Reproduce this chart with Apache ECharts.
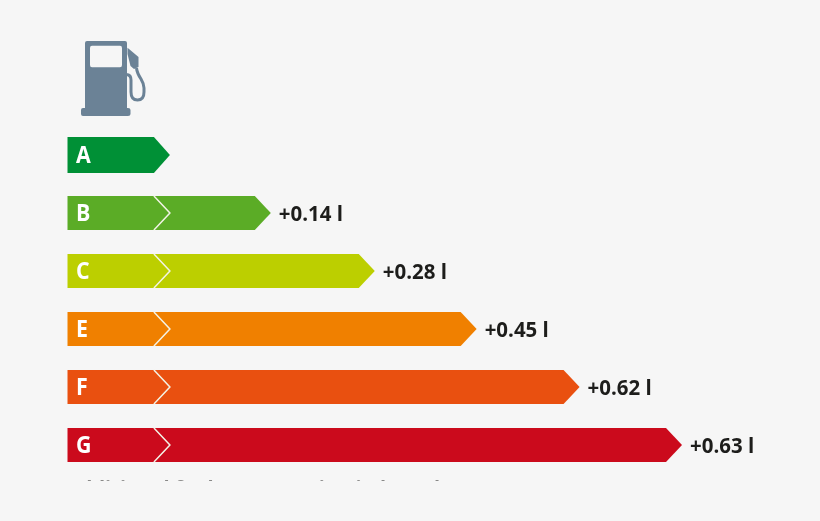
<!DOCTYPE html>
<html>
<head>
<meta charset="utf-8">
<style>
html, body { margin: 0; padding: 0; background: #f6f6f6; }
#chart { width: 820px; height: 521px; }
</style>
<script src="https://cdn.jsdelivr.net/npm/echarts@6/dist/echarts.min.js"></script>
</head>
<body>
<div id="chart"></div>
<script>
// energy label rows, top to bottom
const classes = ['A', 'B', 'C', 'E', 'F', 'G'];
const barLengths = [1, 1.985, 3, 3.995, 5, 6];
const fuelLabels = ['', '+0.14 l', '+0.28 l', '+0.45 l', '+0.62 l', '+0.63 l'];
const barColors = ['#009036', '#5bac26', '#bccf00', '#f08000', '#e95010', '#cb0a1c'];

const textFont = '"Open Sans", "Noto Sans", sans-serif';
const tipDepth = 16;
const iconColor = '#6b8296';

const renderRow = function (params, api) {
    const row = params.dataIndex;
    const start = api.coord([0, row]);
    const end = api.coord([api.value(0), row]);
    const chevron = api.coord([1, row]);
    const h = row === 0 ? 36 : 34;
    const top = start[1] - h / 2;
    const bottom = start[1] + h / 2;
    const children = [{
        type: 'polygon',
        shape: {
            points: [
                [start[0], top],
                [end[0] - tipDepth, top],
                [end[0], start[1]],
                [end[0] - tipDepth, bottom],
                [start[0], bottom]
            ]
        },
        style: { fill: barColors[row] }
    }, {
        type: 'text',
        x: start[0] + 8.5,
        y: start[1] + 2,
        scaleX: 0.95,
        style: {
            text: classes[row],
            fill: '#fff',
            font: 'bold 22.5px ' + textFont,
            align: 'left',
            verticalAlign: 'middle'
        }
    }];
    if (row > 0) {
        children.push({
            type: 'polyline',
            shape: {
                points: [
                    [chevron[0] - tipDepth, top],
                    [chevron[0], start[1]],
                    [chevron[0] - tipDepth, bottom]
                ]
            },
            style: { stroke: '#f3f3e6', lineWidth: 1.5, fill: null }
        });
        children.push({
            type: 'text',
            x: end[0] + 8,
            y: start[1] + 2,
            scaleX: 0.93,
            style: {
                text: fuelLabels[row],
                fill: '#1d1d1b',
                font: 'bold 22px ' + textFont,
                align: 'left',
                verticalAlign: 'middle'
            }
        });
    }
    return { type: 'group', children: children };
};

// fuel pump pictogram
const renderPump = function () {
    return {
        type: 'group',
        children: [{
            type: 'path',
            shape: {
                pathData: 'M87 41 H125 Q127 41 127 43 V108 H128 Q130.500 108 130.500 110 V114 Q130.500 116 128 116 H83 Q81 116 81 114 V110 Q81 108 83 108 H85 V43 Q85 41 87 41 Z M92 45.700 Q90 45.700 90 48 V65 Q90 67.300 92 67.300 H120 Q122 67.300 122 65 V48 Q122 45.700 120 45.700 Z'
            },
            style: { fill: iconColor }
        }, {
            type: 'polygon',
            shape: { points: [[127.500, 47.700], [138.500, 57], [138.500, 67], [134, 69], [130.500, 66], [127.500, 54]] },
            style: { fill: iconColor }
        }, {
            type: 'path',
            shape: { pathData: 'M127 74.500 Q131 75 131 80 V92 Q131 100 137.500 100 Q144 100 144 92 V88 Q144 84 141 79 Q137 73 136.500 68' },
            style: { stroke: iconColor, lineWidth: 3, fill: null }
        }]
    };
};

const chart = echarts.init(document.getElementById('chart'));
chart.setOption({
    backgroundColor: '#f6f6f6',
    animation: false,
    grid: { left: 67.5, right: 138, top: 126, bottom: 47 },
    xAxis: { type: 'value', min: 0, max: 6, show: false },
    yAxis: { type: 'category', data: classes, inverse: true, show: false },
    series: [{
        type: 'custom',
        renderItem: renderRow,
        encode: { x: 0, y: 1 },
        data: barLengths.map((v, i) => [v, i]),
        clip: false
    }, {
        type: 'custom',
        renderItem: renderPump,
        data: [[0, 0]],
        silent: true,
        clip: false
    }],
    graphic: [{
        type: 'text',
        silent: true,
        z: 10,
        x: 66,
        y: 479,
        style: {
            text: 'Additional fuel consumption in l/100 km',
            fill: '#1d1d1b',
            font: 'bold 20px ' + textFont
        }
    }, {
        // the caption is cut off in the source image
        type: 'rect',
        silent: true,
        z: 11,
        shape: { x: 0, y: 480.5, width: 820, height: 41 },
        style: { fill: '#f6f6f6' }
    }]
});
</script>
</body>
</html>
